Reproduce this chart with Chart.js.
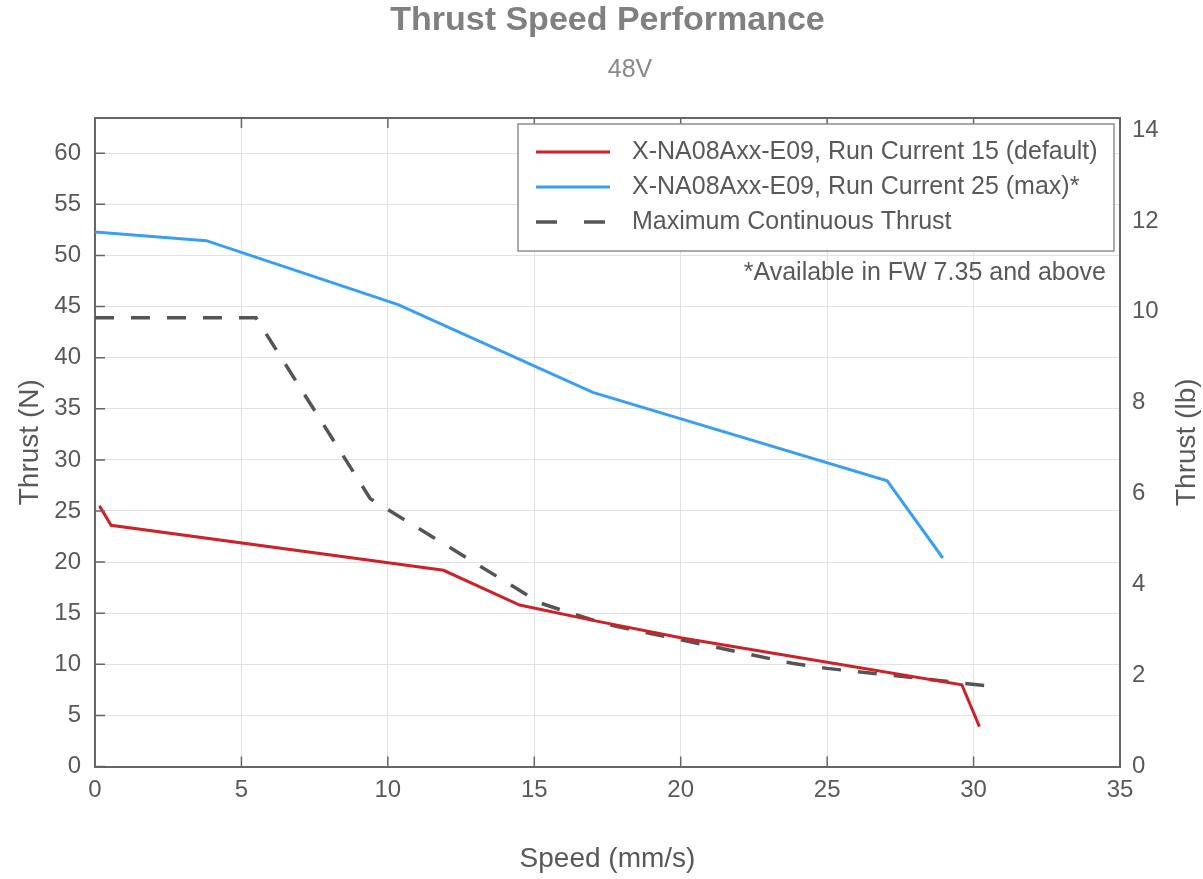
<!DOCTYPE html>
<html>
<head>
<meta charset="utf-8">
<title>Thrust Speed Performance</title>
<script src="https://cdn.jsdelivr.net/npm/chart.js@4.4.1/dist/chart.umd.min.js"></script>
<style>
  html, body { margin: 0; padding: 0; background: #fff; }
  #wrap { width: 1203px; height: 879px; position: relative; }
</style>
</head>
<body>
<div id="wrap"><canvas id="chart"></canvas></div>
<script>
// values
const redSpeed  = [0.15, 0.55, 11.9, 14.5, 17.0, 20.0, 25.0, 29.6, 30.2];
const redThrust = [25.5, 23.6, 19.2, 15.8, 14.3, 12.6, 10.2, 8.0, 3.9];

const blueSpeed  = [0, 3.8, 10.35, 17.0, 27.05, 28.95];
const blueThrust = [52.3, 51.45, 45.2, 36.6, 27.95, 20.4];

const contSpeed  = [0, 5.5, 9.4, 15.2, 16.3, 17.5, 20.0, 23.8, 25.0, 27.6, 30.45];
const contThrust = [43.9, 43.9, 26.2, 16.0, 14.95, 13.9, 12.4, 10.1, 9.6, 8.8, 7.9];

const seriesLabels = [
  'X-NA08Axx-E09, Run Current 15 (default)',
  'X-NA08Axx-E09, Run Current 25 (max)*',
  'Maximum Continuous Thrust'
];
const titleText = 'Thrust Speed Performance';
const subtitleText = '48V';
const footnote = '*Available in FW 7.35 and above';

const xTicks = [0, 5, 10, 15, 20, 25, 30, 35];
const yTicksN = [0, 5, 10, 15, 20, 25, 30, 35, 40, 45, 50, 55, 60];
const yTicksLb = [0, 2, 4, 6, 8, 10, 12, 14];

const N_PER_LB = 4.44822;
const Y_MAX_N = 63.45;

const toPoints = (xs, ys) => xs.map((x, i) => ({ x: x, y: ys[i] }));

const AXIS = '#666666';
const TEXT = '#595959';
const FONT = '"Liberation Sans", Arial, sans-serif';

Chart.defaults.font.family = FONT;
Chart.defaults.color = TEXT;

// frame, inward tick marks, titles, legend box and footnote
const framePlugin = {
  id: 'frame',
  afterDatasetsDraw(chart) {
    const ctx = chart.ctx;
    const a = chart.chartArea;
    const x = chart.scales.x, y = chart.scales.y;
    ctx.save();
    ctx.strokeStyle = AXIS;
    ctx.lineWidth = 1.5;
    ctx.beginPath();
    xTicks.forEach(v => {
      const px = x.getPixelForValue(v);
      ctx.moveTo(px, a.bottom); ctx.lineTo(px, a.bottom - 10);
      ctx.moveTo(px, a.top); ctx.lineTo(px, a.top + 10);
    });
    yTicksN.forEach(v => {
      const py = y.getPixelForValue(v);
      ctx.moveTo(a.left, py); ctx.lineTo(a.left + 10, py);
    });
    ctx.stroke();
    ctx.lineWidth = 2;
    ctx.beginPath();
    ctx.moveTo(a.left, a.top); ctx.lineTo(a.right, a.top);
    ctx.stroke();
    ctx.restore();
  },
  afterDraw(chart) {
    const ctx = chart.ctx;
    const a = chart.chartArea;

    // title + subtitle
    ctx.save();
    ctx.textAlign = 'center';
    ctx.textBaseline = 'middle';
    ctx.fillStyle = '#808080';
    ctx.font = 'bold 34px ' + FONT;
    ctx.fillText(titleText, (a.left + a.right) / 2, 20.5);
    ctx.fillStyle = '#888888';
    ctx.font = '25px ' + FONT;
    ctx.fillText(subtitleText, 630, 70);
    ctx.restore();

    // right axis title, reads bottom to top like the left one
    ctx.save();
    ctx.translate(1187, (a.top + a.bottom) / 2);
    ctx.rotate(-Math.PI / 2);
    ctx.fillStyle = TEXT;
    ctx.font = '28px ' + FONT;
    ctx.textAlign = 'center';
    ctx.textBaseline = 'middle';
    ctx.fillText('Thrust (lb)', 0, 0);
    ctx.restore();

    // legend
    ctx.save();
    const box = { l: 518, t: 124, r: a.right - 6, b: 251 };
    ctx.fillStyle = '#ffffff';
    ctx.fillRect(box.l, box.t, box.r - box.l, box.b - box.t);
    ctx.strokeStyle = '#8f8f8f';
    ctx.lineWidth = 1.5;
    ctx.strokeRect(box.l, box.t, box.r - box.l, box.b - box.t);
    ctx.font = '25px ' + FONT;
    ctx.textBaseline = 'middle';
    chart.data.datasets.forEach((ds, i) => {
      const rowY = 152 + i * 35;
      ctx.strokeStyle = ds.borderColor;
      ctx.lineWidth = ds.borderWidth;
      ctx.setLineDash(ds.borderDash ? [21, 27] : []);
      ctx.beginPath();
      ctx.moveTo(536, rowY);
      ctx.lineTo(610, rowY);
      ctx.stroke();
      ctx.setLineDash([]);
      ctx.fillStyle = TEXT;
      ctx.textAlign = 'left';
      ctx.fillText(ds.label, 632, rowY);
    });

    // footnote
    ctx.textAlign = 'right';
    ctx.fillStyle = TEXT;
    ctx.fillText(footnote, 1106, 273);
    ctx.restore();
  }
};

new Chart(document.getElementById('chart').getContext('2d'), {
  type: 'line',
  data: {
    datasets: [
      {
        label: seriesLabels[0],
        data: toPoints(redSpeed, redThrust),
        borderColor: '#cc2229',
        borderWidth: 3,
        pointRadius: 0,
        tension: 0,
        yAxisID: 'y'
      },
      {
        label: seriesLabels[1],
        data: toPoints(blueSpeed, blueThrust),
        borderColor: '#3a9ff0',
        borderWidth: 3,
        pointRadius: 0,
        tension: 0,
        yAxisID: 'y'
      },
      {
        label: seriesLabels[2],
        data: toPoints(contSpeed, contThrust),
        borderColor: '#555555',
        borderWidth: 3.5,
        borderDash: [19, 17],
        pointRadius: 0,
        tension: 0,
        yAxisID: 'y'
      }
    ]
  },
  options: {
    responsive: true,
    maintainAspectRatio: false,
    animation: false,
    layout: { padding: { top: 118 } },
    plugins: {
      legend: { display: false },
      tooltip: { enabled: false },
      title: { display: false }
    },
    scales: {
      x: {
        type: 'linear',
        min: 0,
        max: 35,
        afterBuildTicks: s => { s.ticks = xTicks.map(v => ({ value: v })); },
        afterFit: s => { s.height = 112.5; },
        grid: { color: '#e2e2e2', lineWidth: 1, drawTicks: false },
        border: { display: true, color: AXIS, width: 2 },
        ticks: { padding: 9, font: { size: 24 }, color: TEXT, maxRotation: 0 },
        title: {
          display: true,
          text: 'Speed (mm/s)',
          color: TEXT,
          font: { size: 28, lineHeight: 1.2 },
          padding: { top: 0, bottom: 3 }
        }
      },
      y: {
        type: 'linear',
        position: 'left',
        min: 0,
        max: Y_MAX_N,
        afterBuildTicks: s => { s.ticks = yTicksN.map(v => ({ value: v })); },
        afterFit: s => { s.width = 95; },
        grid: { color: '#e2e2e2', lineWidth: 1, drawTicks: false },
        border: { display: true, color: AXIS, width: 2 },
        ticks: { padding: 14, font: { size: 24 }, color: TEXT },
        title: {
          display: true,
          text: 'Thrust (N)',
          color: TEXT,
          font: { size: 28, lineHeight: 1.2 },
          padding: { top: 13, bottom: 0 }
        }
      },
      y1: {
        type: 'linear',
        position: 'right',
        min: 0,
        max: Y_MAX_N / N_PER_LB,
        afterBuildTicks: s => { s.ticks = yTicksLb.map(v => ({ value: v })); },
        afterFit: s => { s.width = 83; },
        grid: { display: false, drawTicks: false },
        border: { display: true, color: AXIS, width: 2 },
        ticks: { padding: 12, font: { size: 24 }, color: TEXT }
      }
    }
  },
  plugins: [framePlugin]
});
</script>
</body>
</html>
